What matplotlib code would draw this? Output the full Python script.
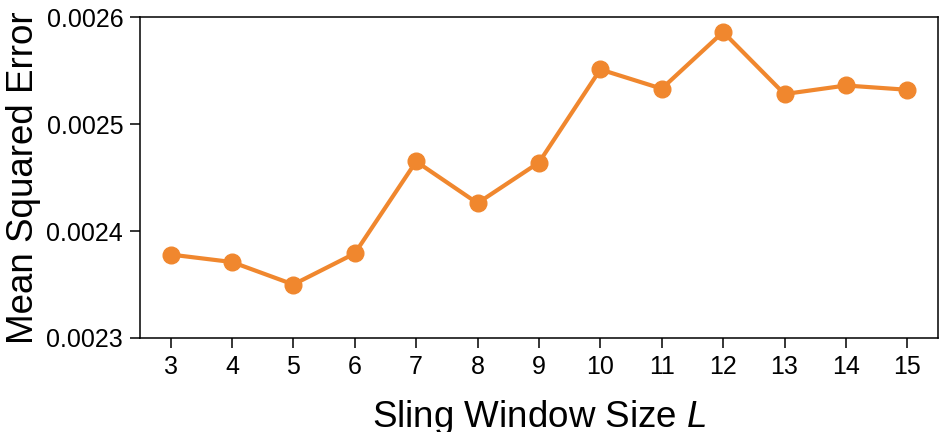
import matplotlib
matplotlib.use("Agg")
import matplotlib.pyplot as plt

plt.rcParams["font.family"] = ["Liberation Sans", "DejaVu Sans"]
plt.rcParams["mathtext.fontset"] = "custom"
plt.rcParams["mathtext.rm"] = "Liberation Sans"
plt.rcParams["mathtext.it"] = "Liberation Sans:italic"

# window sizes and measured errors
window_sizes = [3, 4, 5, 6, 7, 8, 9, 10, 11, 12, 13, 14, 15]
mse = [0.002378, 0.002371, 0.002350, 0.002379, 0.002465, 0.002426, 0.002464,
       0.002551, 0.002533, 0.002586, 0.002528, 0.002536, 0.002532]
y_ticks = [0.0023, 0.0024, 0.0025, 0.0026]

fig = plt.figure(figsize=(9.45, 4.32), dpi=100)
ax = fig.add_axes([0.148, 0.2176, 0.8446, 0.743])

ax.plot(window_sizes, mse, color="#F0872E", linewidth=3,
        marker="o", markersize=12)

ax.set_xlim(2.5, 15.5)
ax.set_ylim(0.0023, 0.0026)
ax.set_xticks(window_sizes)
ax.set_yticks(y_ticks)
ax.set_yticklabels([f"{v:.4f}" for v in y_ticks])
ax.tick_params(labelsize=18, length=7, width=1.1, pad=5)
for s in ax.spines.values():
    s.set_linewidth(1.1)

ax.set_xlabel("Sling Window Size $L$", fontsize=26.5, labelpad=14)
ax.set_ylabel("Mean Squared Error", fontsize=26.5, labelpad=4)

fig.savefig("out.png", dpi=100)
